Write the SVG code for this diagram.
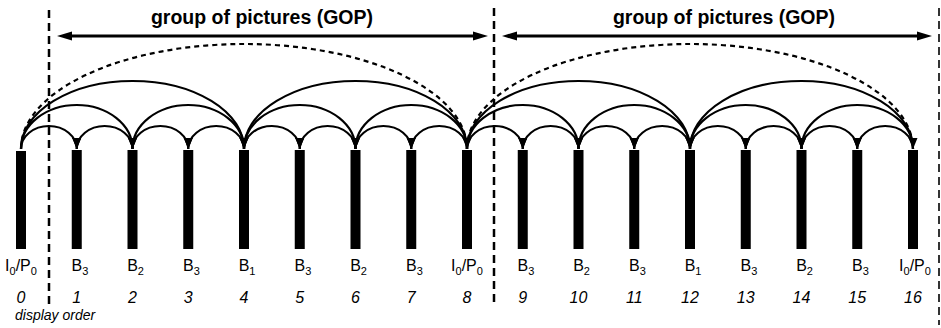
<svg xmlns="http://www.w3.org/2000/svg" width="941" height="328" viewBox="0 0 941 328">
<style>
text{font-family:"Liberation Sans",Arial,sans-serif;fill:#000}
.lbl{font-size:16px}
.sub{font-size:11px}
.num{font-size:16px;font-style:italic}
.title{font-size:19.5px;font-weight:bold}
.bar{fill:#000}
.arc{fill:none;stroke:#000;stroke-width:2.2}
.darc{fill:none;stroke:#000;stroke-width:2.2;stroke-dasharray:5 4}
.sep{stroke:#000;stroke-width:2.5;stroke-dasharray:8 5}
</style>
<defs>
<marker id="ah" markerUnits="userSpaceOnUse" markerWidth="12" markerHeight="10" refX="11" refY="4.5" orient="auto">
<path d="M0,0 L11,4.5 L0,9 z" fill="#000"/>
</marker>
</defs>
<rect width="941" height="328" fill="#fff"/>
<g id="separators">
<line class="sep" x1="49" y1="10" x2="49" y2="306"/>
<line class="sep" x1="494" y1="8" x2="494" y2="306"/>
<line class="sep" x1="939" y1="8" x2="939" y2="325" style="stroke-width:2;stroke:#333"/>
</g>
<g id="gop1">
<line x1="70" y1="36" x2="475" y2="36" stroke="#000" stroke-width="3"/>
<polygon points="57,36 72,31.5 72,40.5" fill="#000"/>
<polygon points="488,36 473,31.5 473,40.5" fill="#000"/>
<text class="title" x="262" y="24" text-anchor="middle">group of pictures (GOP)</text>
</g>
<g id="gop2">
<line x1="515" y1="36" x2="919" y2="36" stroke="#000" stroke-width="3"/>
<polygon points="502,36 517,31.5 517,40.5" fill="#000"/>
<polygon points="932,36 917,31.5 917,40.5" fill="#000"/>
<text class="title" x="724" y="24" text-anchor="middle">group of pictures (GOP)</text>
</g>
<g id="connectors">
<path class="darc" d="M21,149 A223,105 0 0 1 467,149" marker-end="url(#ah)"/>
<path class="darc" d="M467,149 A223,105 0 0 1 913,149" marker-end="url(#ah)"/>
<path class="arc" d="M21,149 A111.5,68 0 0 1 244,149" marker-end="url(#ah)"/>
<path class="arc" d="M467,149 A111.5,68 0 0 0 244,149" marker-end="url(#ah)"/>
<path class="arc" d="M467,149 A111.5,68 0 0 1 690,149" marker-end="url(#ah)"/>
<path class="arc" d="M913,149 A111.5,68 0 0 0 690,149" marker-end="url(#ah)"/>
<path class="arc" d="M21,149 A55.75,44 0 0 1 132.5,149" marker-end="url(#ah)"/>
<path class="arc" d="M244,149 A55.75,44 0 0 0 132.5,149" marker-end="url(#ah)"/>
<path class="arc" d="M244,149 A55.75,44 0 0 1 355.5,149" marker-end="url(#ah)"/>
<path class="arc" d="M467,149 A55.75,44 0 0 0 355.5,149" marker-end="url(#ah)"/>
<path class="arc" d="M467,149 A55.75,44 0 0 1 578.5,149" marker-end="url(#ah)"/>
<path class="arc" d="M690,149 A55.75,44 0 0 0 578.5,149" marker-end="url(#ah)"/>
<path class="arc" d="M690,149 A55.75,44 0 0 1 801.5,149" marker-end="url(#ah)"/>
<path class="arc" d="M913,149 A55.75,44 0 0 0 801.5,149" marker-end="url(#ah)"/>
<path class="arc" d="M21,149 A27.875,23 0 0 1 76.75,149" marker-end="url(#ah)"/>
<path class="arc" d="M132.5,149 A27.875,23 0 0 0 76.75,149" marker-end="url(#ah)"/>
<path class="arc" d="M132.5,149 A27.875,23 0 0 1 188.25,149" marker-end="url(#ah)"/>
<path class="arc" d="M244,149 A27.875,23 0 0 0 188.25,149" marker-end="url(#ah)"/>
<path class="arc" d="M244,149 A27.875,23 0 0 1 299.75,149" marker-end="url(#ah)"/>
<path class="arc" d="M355.5,149 A27.875,23 0 0 0 299.75,149" marker-end="url(#ah)"/>
<path class="arc" d="M355.5,149 A27.875,23 0 0 1 411.25,149" marker-end="url(#ah)"/>
<path class="arc" d="M467,149 A27.875,23 0 0 0 411.25,149" marker-end="url(#ah)"/>
<path class="arc" d="M467,149 A27.875,23 0 0 1 522.75,149" marker-end="url(#ah)"/>
<path class="arc" d="M578.5,149 A27.875,23 0 0 0 522.75,149" marker-end="url(#ah)"/>
<path class="arc" d="M578.5,149 A27.875,23 0 0 1 634.25,149" marker-end="url(#ah)"/>
<path class="arc" d="M690,149 A27.875,23 0 0 0 634.25,149" marker-end="url(#ah)"/>
<path class="arc" d="M690,149 A27.875,23 0 0 1 745.75,149" marker-end="url(#ah)"/>
<path class="arc" d="M801.5,149 A27.875,23 0 0 0 745.75,149" marker-end="url(#ah)"/>
<path class="arc" d="M801.5,149 A27.875,23 0 0 1 857.25,149" marker-end="url(#ah)"/>
<path class="arc" d="M913,149 A27.875,23 0 0 0 857.25,149" marker-end="url(#ah)"/>
</g>
<g id="f0"><rect class="bar" x="16" y="151" width="10" height="98"/><text class="lbl" x="21" y="271" text-anchor="middle">I<tspan class="sub" dy="4">0</tspan><tspan dy="-4">/P</tspan><tspan class="sub" dy="4">0</tspan></text><text class="num" x="21" y="303" text-anchor="middle">0</text></g>
<g id="f1"><rect class="bar" x="71.75" y="150" width="10" height="99"/><text class="lbl" x="71.5" y="271">B<tspan class="sub" dy="4">3</tspan></text><text class="num" x="76.75" y="303" text-anchor="middle">1</text></g>
<g id="f2"><rect class="bar" x="127.5" y="150" width="10" height="99"/><text class="lbl" x="127.2" y="271">B<tspan class="sub" dy="4">2</tspan></text><text class="num" x="132.5" y="303" text-anchor="middle">2</text></g>
<g id="f3"><rect class="bar" x="183.25" y="150" width="10" height="99"/><text class="lbl" x="183" y="271">B<tspan class="sub" dy="4">3</tspan></text><text class="num" x="188.25" y="303" text-anchor="middle">3</text></g>
<g id="f4"><rect class="bar" x="239" y="150" width="10" height="99"/><text class="lbl" x="238.7" y="271">B<tspan class="sub" dy="4">1</tspan></text><text class="num" x="244" y="303" text-anchor="middle">4</text></g>
<g id="f5"><rect class="bar" x="294.75" y="150" width="10" height="99"/><text class="lbl" x="294.5" y="271">B<tspan class="sub" dy="4">3</tspan></text><text class="num" x="299.75" y="303" text-anchor="middle">5</text></g>
<g id="f6"><rect class="bar" x="350.5" y="150" width="10" height="99"/><text class="lbl" x="350.2" y="271">B<tspan class="sub" dy="4">2</tspan></text><text class="num" x="355.5" y="303" text-anchor="middle">6</text></g>
<g id="f7"><rect class="bar" x="406.25" y="150" width="10" height="99"/><text class="lbl" x="406" y="271">B<tspan class="sub" dy="4">3</tspan></text><text class="num" x="411.25" y="303" text-anchor="middle">7</text></g>
<g id="f8"><rect class="bar" x="462" y="150" width="10" height="99"/><text class="lbl" x="467" y="271" text-anchor="middle">I<tspan class="sub" dy="4">0</tspan><tspan dy="-4">/P</tspan><tspan class="sub" dy="4">0</tspan></text><text class="num" x="467" y="303" text-anchor="middle">8</text></g>
<g id="f9"><rect class="bar" x="517.75" y="150" width="10" height="99"/><text class="lbl" x="517.5" y="271">B<tspan class="sub" dy="4">3</tspan></text><text class="num" x="522.75" y="303" text-anchor="middle">9</text></g>
<g id="f10"><rect class="bar" x="573.5" y="150" width="10" height="99"/><text class="lbl" x="573.2" y="271">B<tspan class="sub" dy="4">2</tspan></text><text class="num" x="578.5" y="303" text-anchor="middle">10</text></g>
<g id="f11"><rect class="bar" x="629.25" y="150" width="10" height="99"/><text class="lbl" x="629" y="271">B<tspan class="sub" dy="4">3</tspan></text><text class="num" x="634.25" y="303" text-anchor="middle">11</text></g>
<g id="f12"><rect class="bar" x="685" y="150" width="10" height="99"/><text class="lbl" x="684.7" y="271">B<tspan class="sub" dy="4">1</tspan></text><text class="num" x="690" y="303" text-anchor="middle">12</text></g>
<g id="f13"><rect class="bar" x="740.75" y="150" width="10" height="99"/><text class="lbl" x="740.5" y="271">B<tspan class="sub" dy="4">3</tspan></text><text class="num" x="745.75" y="303" text-anchor="middle">13</text></g>
<g id="f14"><rect class="bar" x="796.5" y="150" width="10" height="99"/><text class="lbl" x="796.2" y="271">B<tspan class="sub" dy="4">2</tspan></text><text class="num" x="801.5" y="303" text-anchor="middle">14</text></g>
<g id="f15"><rect class="bar" x="852.25" y="150" width="10" height="99"/><text class="lbl" x="852" y="271">B<tspan class="sub" dy="4">3</tspan></text><text class="num" x="857.25" y="303" text-anchor="middle">15</text></g>
<g id="f16"><rect class="bar" x="908" y="150" width="10" height="99"/><text class="lbl" x="915" y="271" text-anchor="middle">I<tspan class="sub" dy="4">0</tspan><tspan dy="-4">/P</tspan><tspan class="sub" dy="4">0</tspan></text><text class="num" x="913" y="303" text-anchor="middle">16</text></g>
<g id="axis-label"><text x="15" y="320" style="font-size:14px;font-style:italic">display order</text></g>
</svg>
